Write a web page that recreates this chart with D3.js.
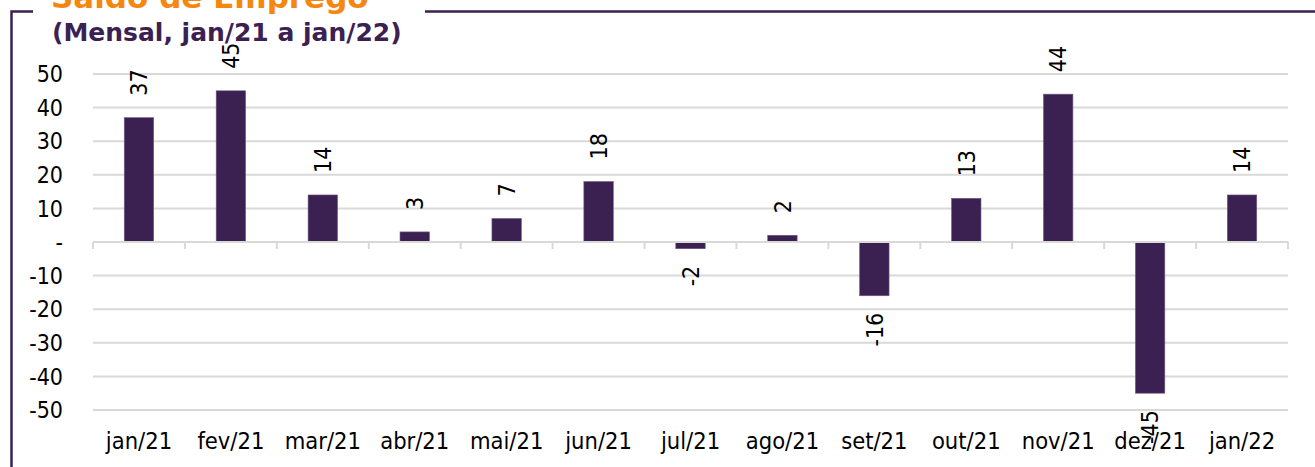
<!DOCTYPE html>
<html>
<head>
<meta charset="utf-8">
<script src="https://cdnjs.cloudflare.com/ajax/libs/d3/7.8.5/d3.min.js"></script>
<style>
  body { margin: 0; background: #fff; }
  svg { display: block; }
  text { font-family: "DejaVu Sans Condensed", "DejaVu Sans", sans-serif; font-stretch: condensed; }
  text.ttl { font-family: "DejaVu Sans", sans-serif; font-stretch: normal; }
</style>
</head>
<body>
<script>
// monthly values (thousands)
var months = ['jan/21','fev/21','mar/21','abr/21','mai/21','jun/21','jul/21','ago/21','set/21','out/21','nov/21','dez/21','jan/22'];
var saldo = [37, 45, 14, 3, 7, 18, -2, 2, -16, 13, 44, -45, 14];
var yTicks = [50, 40, 30, 20, 10, 0, -10, -20, -30, -40, -50];
var title = 'Saldo de Emprego';
var subtitle = '(Mensal, jan/21 a jan/22)';

var W = 1315, H = 467;
var purple = '#3b2152', orange = '#f5870f', grid = '#d9d9d9';

var svg = d3.select('body').append('svg')
            .attr('width', W)
            .attr('height', H);

var x = d3.scaleBand().domain(months).range([93, 1288]).paddingInner(0.68).paddingOuter(0.34);
var y = d3.scaleLinear().domain([-50, 50]).range([410, 74]);

// frame
svg.append('path')
   .attr('d', 'M11.5,470 V11.5 H33 M425,11.5 H1315')
   .attr('fill', 'none')
   .attr('stroke', purple)
   .attr('stroke-width', 2.5);

// titles (top one is cut by the page edge, as in the source)
svg.append('text')
   .attr('class', 'ttl')
   .attr('x', 51).attr('y', 8)
   .attr('font-size', 31)
   .attr('font-weight', 'bold')
   .attr('fill', orange)
   .text(title);
svg.append('text')
   .attr('class', 'ttl')
   .attr('x', 52).attr('y', 41)
   .attr('font-size', 25)
   .attr('font-weight', 'bold')
   .attr('fill', purple)
   .text(subtitle);

// gridlines
svg.selectAll('line.grid').data(yTicks.filter(function(d){ return d !== 0; })).enter()
   .append('line')
   .attr('class', 'grid')
   .attr('x1', 93).attr('x2', 1288)
   .attr('y1', function(d){ return y(d); })
   .attr('y2', function(d){ return y(d); })
   .attr('stroke', grid)
   .attr('stroke-width', 2);

// y labels
svg.selectAll('text.ylab').data(yTicks).enter()
   .append('text')
   .attr('class', 'ylab')
   .attr('x', 63)
   .attr('y', function(d){ return y(d); })
   .attr('dy', '0.36em')
   .attr('text-anchor', 'end')
   .attr('font-size', 23)
   .attr('fill', '#000')
   .text(function(d){ return d === 0 ? '-' : d; });

// bars
svg.selectAll('rect.bar').data(saldo).enter()
   .append('rect')
   .attr('class', 'bar')
   .attr('x', function(d, i){ return x(months[i]); })
   .attr('width', x.bandwidth())
   .attr('y', function(d){ return y(Math.max(0, d)); })
   .attr('height', function(d){ return Math.abs(y(d) - y(0)); })
   .attr('fill', purple)
   .attr('stroke', '#6e5c84')
   .attr('stroke-width', 0.6);

// zero axis with category ticks
var zero = svg.append('g').attr('transform', 'translate(0,' + y(0) + ')');
zero.append('line')
    .attr('x1', 93).attr('x2', 1288)
    .attr('stroke', grid).attr('stroke-width', 2);
var bounds = months.map(function(m){ return x(m) - x.step() * x.paddingInner() / 2; });
bounds.push(1288);
zero.selectAll('line.tick').data(bounds).enter()
    .append('line')
    .attr('class', 'tick')
    .attr('x1', function(d){ return d; })
    .attr('x2', function(d){ return d; })
    .attr('y1', 0).attr('y2', 7)
    .attr('stroke', grid).attr('stroke-width', 2);

// x labels
svg.selectAll('text.xlab').data(months).enter()
   .append('text')
   .attr('class', 'xlab')
   .attr('x', function(d){ return x(d) + x.bandwidth() / 2; })
   .attr('y', 449)
   .attr('text-anchor', 'middle')
   .attr('font-size', 23.5)
   .attr('fill', '#000')
   .text(function(d){ return d; });

// value labels, rotated
svg.selectAll('text.val').data(saldo).enter()
   .append('text')
   .attr('class', 'val')
   .attr('transform', function(d, i){
     var cx = x(months[i]) + x.bandwidth() / 2;
     var cy = d >= 0 ? y(d) - 22 : y(d) + 17;
     return 'translate(' + cx + ',' + cy + ') rotate(-90)';
   })
   .attr('dy', '0.36em')
   .attr('text-anchor', function(d){ return d >= 0 ? 'start' : 'end'; })
   .attr('font-size', 23)
   .attr('fill', '#000')
   .text(function(d){ return d; });
</script>
</body>
</html>
